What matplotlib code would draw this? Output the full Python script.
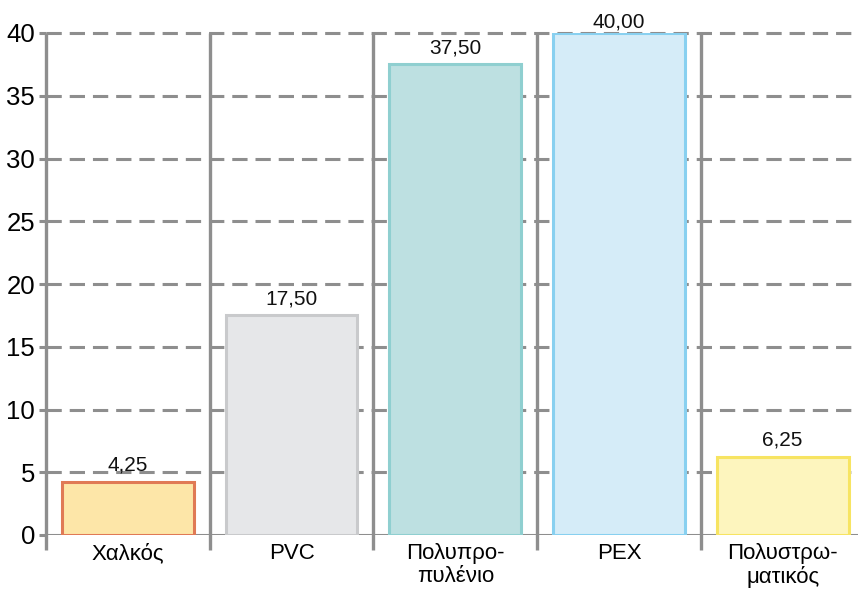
import matplotlib
matplotlib.use("Agg")
import matplotlib.pyplot as plt
from matplotlib import font_manager

names = {f.name for f in font_manager.fontManager.ttflist}
FONT = "Liberation Sans Narrow" if "Liberation Sans Narrow" in names else "Liberation Sans"
plt.rcParams["font.family"] = [FONT, "DejaVu Sans"]

categories = ["Χαλκός", "PVC", "Πολυπρο-\nπυλένιο", "PEX", "Πολυστρω-\nματικός"]
values = [4.25, 17.50, 37.50, 40.00, 6.25]
value_labels = ["4,25", "17,50", "37,50", "40,00", "6,25"]
yticks = [0, 5, 10, 15, 20, 25, 30, 35, 40]

fills = ["#FDE6A8", "#E6E7E9", "#BDE0E1", "#D5ECF8", "#FDF5BE"]
edges = ["#E07A55", "#C9CACC", "#8FCFD0", "#88D0F0", "#F7E462"]

W, H = 858, 594
fig = plt.figure(figsize=(W / 100, H / 100), dpi=100)
left, right = 46, 46 + 5 * 163.7
top, bottom = 33, 535
ax = fig.add_axes([left / W, 1 - bottom / H, (right - left) / W, (bottom - top) / H])
ax.set_xlim(-0.5, 4.5)
ax.set_ylim(0, 40)

grid_c = "#8E8E8E"
for t in yticks[1:]:
    ax.axhline(t, color=grid_c, lw=2.2, ls=(0, (5, 2.6)), zorder=1, clip_on=False)
ax.axhline(0, color=grid_c, lw=2.2, zorder=1)
for i in range(len(categories)):
    ax.vlines(i - 0.5, -1.2, 40, color=grid_c, lw=2.4, zorder=1, clip_on=False)

xs = list(range(len(categories)))
ax.bar(xs, values, width=0.805, color=fills, edgecolor=edges, linewidth=2.2, zorder=3)

for x, v, lab in zip(xs, values, value_labels):
    y = min(v + 0.55, 40.15)
    ax.text(x, y, lab, ha="center", va="bottom", fontsize=15, color="#111111", zorder=4)

for s in ax.spines.values():
    s.set_visible(False)
ax.set_yticks(yticks)
ax.set_yticklabels([str(t) for t in yticks], fontsize=18.5)
ax.tick_params(axis="y", length=5, width=2.2, color=grid_c, pad=3)
ax.set_xticks(xs)
ax.set_xticklabels(categories, fontsize=16, linespacing=1.1, va="top")
ax.tick_params(axis="x", length=0, pad=6)

fig.savefig("out.png", dpi=100)
